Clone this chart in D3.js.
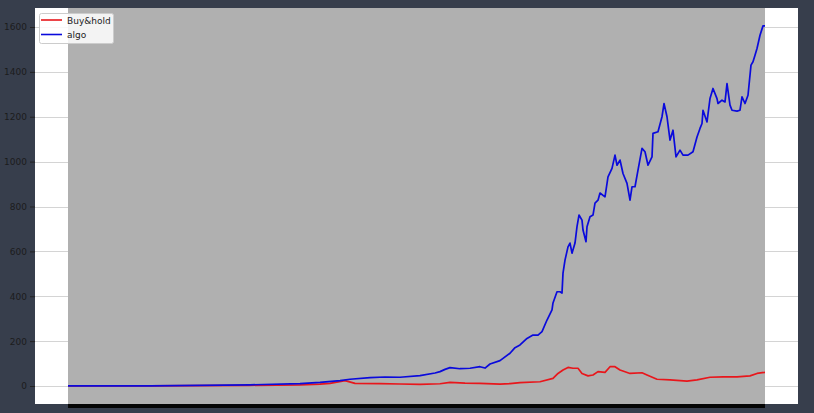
<!DOCTYPE html>
<html><head><meta charset="utf-8">
<script src="https://cdn.jsdelivr.net/npm/d3@7"></script>
<style>html,body{margin:0;padding:0;background:#373e4c;}svg{display:block;}</style>
</head><body>
<svg id="c" width="814" height="413"></svg>
<script>
const seriesNames = ["Buy&hold", "algo"];
const yTicks = [0, 200, 400, 600, 800, 1000, 1200, 1400, 1600];

const algoDays = [0,82,132,182,232,252,272,282,302,317,332,352,367,372,377,382,392,402,412,417,422,432,442,447,452,459,465,470,474,479,484,485,489,492,494,495,497,500,502,504,507,509,511,514,515,518,519,522,525,527,530,532,537,540,544,547,549,552,555,559,562,564,567,570,574,577,580,584,585,590,594,596,599,602,605,608,612,615,620,625,629,632,634,635,639,642,645,649,650,654,657,659,662,664,669,672,674,677,680,683,685,687,689,692,695,697];
const algoVals = [1,1,3,5,11,16,24,30,37,40,39,46,58,64,74,82,77,79,86,80,98,113,146,171,183,212,227,227,242,294,339,370,420,420,414,503,561,620,637,592,637,710,762,739,695,643,710,754,762,815,828,860,843,932,970,1029,984,1007,947,903,828,888,888,962,1059,1044,984,1021,1126,1133,1200,1259,1200,1096,1140,1021,1051,1029,1029,1044,1110,1148,1170,1229,1177,1281,1326,1281,1259,1274,1266,1348,1252,1229,1225,1229,1289,1259,1296,1430,1445,1474,1504,1563,1605,1605];

const bhDays = [0,82,132,182,232,252,262,277,287,312,332,352,372,382,397,412,432,442,452,472,485,490,495,500,505,510,514,520,525,530,537,542,547,552,562,574,579,589,602,619,629,642,655,669,682,689,697];
const bhVals = [1,1,2,3,5,8,12,24,12,11,9,7,10,16,13,12,8,11,15,19,34,56,71,83,79,79,56,45,49,64,61,86,86,71,56,59,49,30,27,22,27,39,41,41,45,56,61];

const svg = d3.select("#c");
const L = 68, R = 765, T = 8, B = 404;
const x = d3.scaleLinear().domain([0, 697]).range([L, R]);
const y = d3.scaleLinear().domain([0, 1600]).range([386, 27]);

svg.append("rect").attr("x", 35).attr("y", 8).attr("width", 763).attr("height", 396).attr("fill", "#ffffff");

svg.append("g").selectAll("line").data(yTicks).join("line")
  .attr("x1", 35).attr("x2", 798)
  .attr("y1", d => Math.round(y(d)) + 0.5).attr("y2", d => Math.round(y(d)) + 0.5)
  .attr("stroke", "#d4d4d4").attr("stroke-width", 1);

svg.append("rect").attr("x", L).attr("y", T).attr("width", R - L).attr("height", B - T).attr("fill", "#b0b0b0");
svg.append("rect").attr("x", L).attr("y", B).attr("width", R - L).attr("height", 4).attr("fill", "#050505");

const ax = d3.axisLeft(y).tickValues(yTicks).tickFormat(d3.format("d")).tickSize(5).tickPadding(3);
const g = svg.append("g").attr("transform", "translate(35,0)").call(ax);
g.select(".domain").remove();
g.selectAll(".tick line").attr("stroke", "#222");
g.selectAll(".tick text").attr("fill", "#1c1c1c").style("font-family", "DejaVu Sans, sans-serif").style("font-size", "9px");

const line = d3.line().x(d => x(d[0])).y(d => y(d[1]));
const bh = bhDays.map((d, i) => [d, bhVals[i]]);
const algo = algoDays.map((d, i) => [d, algoVals[i]]);
svg.append("path").datum(bh).attr("d", line).attr("fill", "none").attr("stroke", "#e8161b").attr("stroke-width", 1.7).attr("stroke-linejoin", "round");
svg.append("path").datum(algo).attr("d", line).attr("fill", "none").attr("stroke", "#0a0adc").attr("stroke-width", 1.7).attr("stroke-linejoin", "round");

const lg = svg.append("g");
lg.append("rect").attr("x", 39.5).attr("y", 13.5).attr("width", 74).attr("height", 30).attr("rx", 2)
  .attr("fill", "rgba(255,255,255,0.85)").attr("stroke", "#cccccc");
const colors = ["#e8161b", "#0a0adc"];
seriesNames.forEach((n, i) => {
  const yy = 20 + i * 14.5;
  lg.append("line").attr("x1", 41).attr("x2", 62).attr("y1", yy).attr("y2", yy).attr("stroke", colors[i]).attr("stroke-width", 1.6);
  lg.append("text").attr("x", 67).attr("y", yy + 3.5).text(n)
    .attr("fill", "#1c1c1c").style("font-family", "DejaVu Sans, sans-serif").style("font-size", "9px");
});
</script>
</body></html>
